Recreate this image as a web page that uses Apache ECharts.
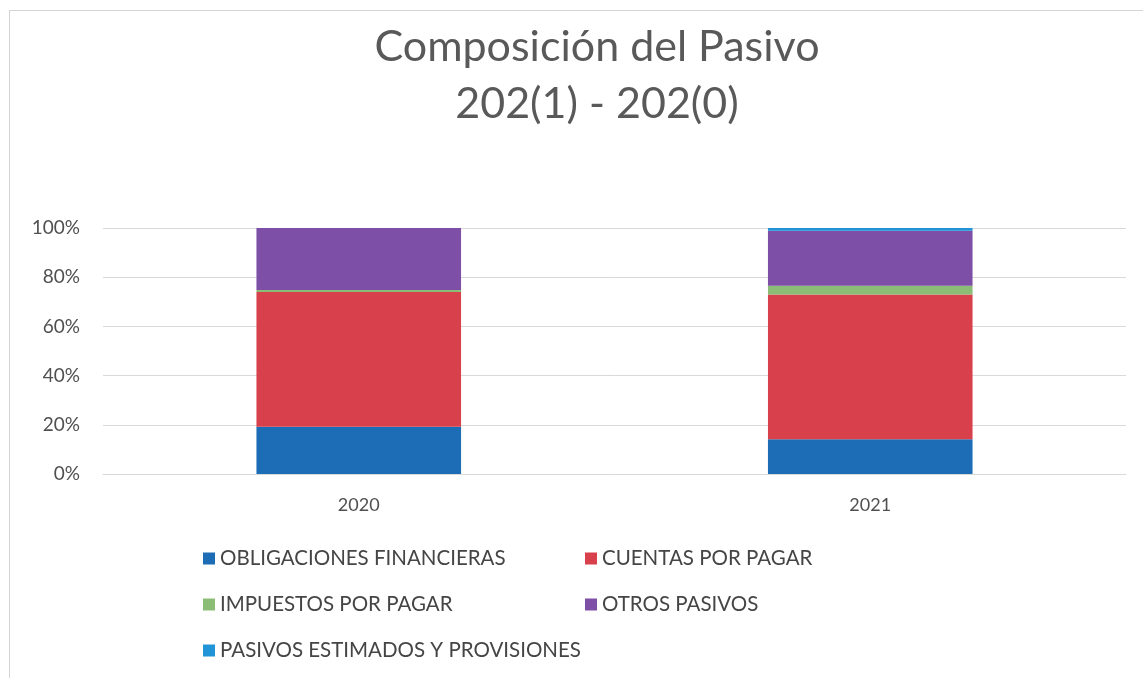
<!DOCTYPE html>
<html>
<head>
<meta charset="utf-8">
<script src="https://cdn.jsdelivr.net/npm/echarts@6/dist/echarts.min.js"></script>
<style>
  html, body { margin: 0; padding: 0; background: #fff; }
  #chart { width: 1143px; height: 678px; }
  .frame {
    position: absolute; left: 9px; top: 10px; width: 1200px; height: 700px;
    border-left: 1px solid #d4d4d4; border-top: 1px solid #d4d4d4;
    pointer-events: none;
  }
</style>
</head>
<body>
<div id="chart"></div>
<div class="frame"></div>
<script>
  // periodos
  const years = ['2020', '2021'];
  // participacion (%) de cada cuenta en el pasivo total
  const obligacionesFinancieras = [19.2, 14.1];
  const cuentasPorPagar = [54.8, 58.9];
  const impuestosPorPagar = [0.8, 3.5];
  const otrosPasivos = [25.2, 22.4];
  const pasivosEstimados = [0, 1.1];

  const yTicks = [0, 20, 40, 60, 80, 100];

  const font = 'Lato, "Open Sans", sans-serif';
  const chart = echarts.init(document.getElementById('chart'));

  const mkBar = (name, data, color) => ({
    name, type: 'bar', stack: 'total', data,
    barWidth: '40%',
    itemStyle: { color },
    emphasis: { disabled: true }
  });

  const legendText = { fontSize: 20.5, color: '#454545', fontFamily: font };

  chart.setOption({
    animation: false,
    textStyle: { fontFamily: font },
    title: {
      text: 'Composición del Pasivo\n202(1) - 202(0)',
      left: 592, top: 14, textAlign: 'center',
      textStyle: { fontSize: 43, lineHeight: 57, fontWeight: 'normal', color: '#595959', fontFamily: font }
    },
    grid: { left: 103, right: 17, top: 228, bottom: 204 },
    legend: [
      {
        data: ['OBLIGACIONES FINANCIERAS', 'IMPUESTOS POR PAGAR', 'PASIVOS ESTIMADOS Y PROVISIONES'],
        orient: 'vertical', left: 198, top: 543, itemGap: 25,
        itemWidth: 12, itemHeight: 12, icon: 'rect',
        textStyle: legendText
      },
      {
        data: ['CUENTAS POR PAGAR', 'OTROS PASIVOS'],
        orient: 'vertical', left: 580, top: 543, itemGap: 25,
        itemWidth: 12, itemHeight: 12, icon: 'rect',
        textStyle: legendText
      }
    ],
    xAxis: {
      type: 'category', data: years,
      axisLine: { lineStyle: { color: '#d9d9d9' } },
      axisTick: { show: false },
      axisLabel: { fontSize: 18, color: '#505050', margin: 22 }
    },
    yAxis: {
      type: 'value', min: yTicks[0], max: yTicks[yTicks.length - 1], interval: 20,
      axisLine: { show: false }, axisTick: { show: false },
      splitLine: { lineStyle: { color: '#d9d9d9' } },
      axisLabel: { fontSize: 19, color: '#505050', margin: 23, formatter: '{value}%' }
    },
    series: [
      mkBar('OBLIGACIONES FINANCIERAS', obligacionesFinancieras, '#1c6db5'),
      mkBar('CUENTAS POR PAGAR', cuentasPorPagar, '#d8404b'),
      mkBar('IMPUESTOS POR PAGAR', impuestosPorPagar, '#8cbd77'),
      mkBar('OTROS PASIVOS', otrosPasivos, '#7d4fa6'),
      mkBar('PASIVOS ESTIMADOS Y PROVISIONES', pasivosEstimados, '#2094d6')
    ]
  });
</script>
</body>
</html>
